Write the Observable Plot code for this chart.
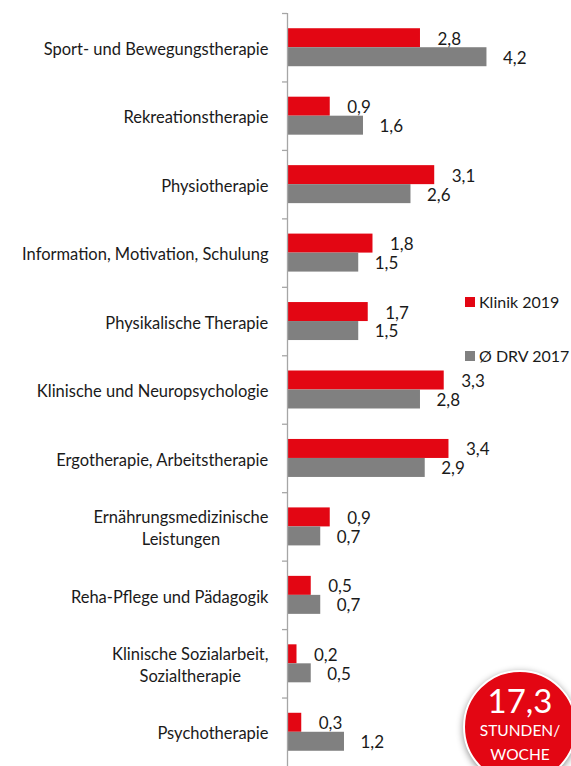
<!DOCTYPE html>
<html><head><meta charset="utf-8">
<script src="https://cdn.jsdelivr.net/npm/d3@7"></script>
<script src="https://cdn.jsdelivr.net/npm/@observablehq/plot@0.6"></script>
<style>
body{margin:0;background:#fff;overflow:hidden;}
#wrap{position:relative;width:571px;height:766px;overflow:hidden;font-family:Lato,sans-serif;color:#1a1a1a;}
#wrap svg{position:absolute;left:0;top:0;}
.lg{position:absolute;font-size:16px;height:20px;line-height:20px;white-space:nowrap;}
.sw{position:absolute;width:10px;height:10px;}
#circle{position:absolute;left:463px;top:670px;width:110px;height:110px;border-radius:50%;background:#E30613;border:2px solid #fff;box-shadow:0 2px 7px rgba(0,0,0,0.45);color:#fff;text-align:center;}
#circle .big{position:absolute;left:0;right:0;top:10px;font-size:33px;line-height:36px;}
#circle .small{position:absolute;left:0;right:0;font-size:15.5px;line-height:18px;}
</style></head><body><div id="wrap"></div>
<script>
const categories = [
  "Sport- und Bewegungstherapie",
  "Rekreationstherapie",
  "Physiotherapie",
  "Information, Motivation, Schulung",
  "Physikalische Therapie",
  "Klinische und Neuropsychologie",
  "Ergotherapie, Arbeitstherapie",
  "Ernährungsmedizinische\nLeistungen",
  "Reha-Pflege und Pädagogik",
  "Klinische Sozialarbeit,\nSozialtherapie",
  "Psychotherapie"
];
const klinik2019 = [2.8, 0.9, 3.1, 1.8, 1.7, 3.3, 3.4, 0.9, 0.5, 0.2, 0.3];
const drv2017 = [4.2, 1.6, 2.6, 1.5, 1.5, 2.8, 2.9, 0.7, 0.7, 0.5, 1.2];
const seriesNames = ["Klinik 2019", "Ø DRV 2017"];
const seriesColors = ["#E30613", "#808080"];
const totalValue = "17,3";
const totalUnit = ["STUNDEN/", "WOCHE"];

const fmt = v => v.toFixed(1).replace(".", ",");
const red = categories.map((c, i) => ({cat: c, value: klinik2019[i]}));
const gray = categories.map((c, i) => ({cat: c, value: drv2017[i]}));

const W = 571, H = 766, MT = 13, MB = 0, ML = 287;
const PI = 0.445;
const step = (H - MT - MB) / categories.length;
const bw = step * (1 - PI);
const axisColor = "#a6a6a6";
const labelSize = 16.5;
const canvas = document.createElement("canvas");
const ctx = canvas.getContext("2d");
ctx.font = labelSize + "px Lato";
const labelMarks = categories.map(c => {
  const w = Math.max(...c.split("\n").map(l => ctx.measureText(l).width));
  return Plot.text([c], {x: () => 0, y: d => d, text: d => d, textAnchor: "middle",
    dx: -(19 + w / 2), dy: 0, fontSize: labelSize, lineHeight: 1.35, fill: "#1a1a1a"});
});

const plot = Plot.plot({
  width: W, height: H, marginLeft: ML, marginRight: 0, marginTop: MT, marginBottom: MB,
  x: {domain: [0, 5.98], axis: null},
  y: {domain: categories, paddingInner: PI, paddingOuter: PI / 2, round: false, axis: null},
  style: {fontFamily: "Lato, sans-serif", background: "transparent", overflow: "visible"},
  marks: [
    Plot.barX(red, {x: "value", y: "cat", fill: seriesColors[0], insetBottom: bw / 2}),
    Plot.barX(gray, {x: "value", y: "cat", fill: seriesColors[1], insetTop: bw / 2}),
    Plot.text(red, {x: "value", y: "cat", text: d => fmt(d.value), dx: 17, dy: -bw / 4 + 1, textAnchor: "start", fontSize: 17, fill: "#1a1a1a"}),
    Plot.text(gray, {x: "value", y: "cat", text: d => fmt(d.value), dx: 16, dy: bw / 4 + 1, textAnchor: "start", fontSize: 17, fill: "#1a1a1a"}),
    Plot.ruleX([0], {stroke: axisColor, strokeWidth: 1.3}),
    Plot.ruleY(categories, {y: d => d, x1: 0, x2: 0, insetLeft: -5, dy: -step / 2, stroke: axisColor, strokeWidth: 1.3}),
    ...labelMarks
  ]
});
const wrap = document.getElementById("wrap");
wrap.appendChild(plot);

// legend
const legendTops = [302, 356];
seriesNames.forEach((s, i) => {
  const sw = document.createElement("div");
  sw.className = "sw";
  sw.style.left = "465px"; sw.style.top = (legendTops[i] - 5) + "px";
  sw.style.background = seriesColors[i];
  wrap.appendChild(sw);
  const t = document.createElement("div");
  t.className = "lg";
  t.style.left = "479px"; t.style.top = (legendTops[i] - 10) + "px";
  t.textContent = s;
  wrap.appendChild(t);
});

// total badge
const circ = document.createElement("div");
circ.id = "circle";
const big = document.createElement("div");
big.className = "big"; big.textContent = totalValue;
circ.appendChild(big);
totalUnit.forEach((u, i) => {
  const d = document.createElement("div");
  d.className = "small"; d.style.top = (49 + i * 24) + "px"; d.textContent = u;
  circ.appendChild(d);
});
wrap.appendChild(circ);
</script>
</body></html>
